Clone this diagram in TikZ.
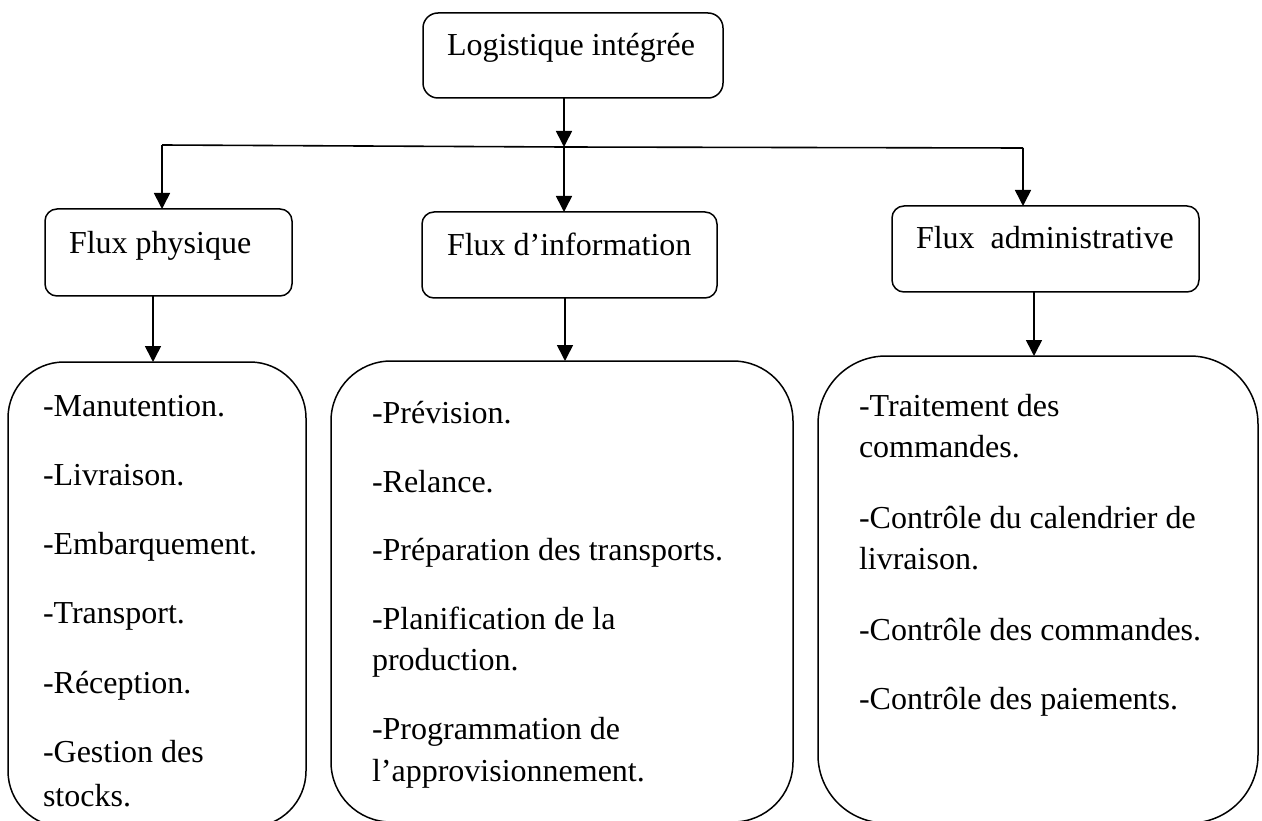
\documentclass[tikz,border=0pt]{standalone}
\usepackage{fontspec}
\setmainfont{Liberation Serif}
\usetikzlibrary{arrows.meta}
\tikzset{
  box/.style={draw, line width=1.5pt, rounded corners=#1, inner sep=0pt, outer sep=0pt},
  txt/.style={anchor=base west, inner sep=0pt, outer sep=0pt, font=\fontsize{32}{38}\selectfont},
  conn/.style={line width=1.6pt, -{Triangle[width=16pt,length=16pt]}},
  plain/.style={line width=1.6pt},
}
\begin{document}
\begin{tikzpicture}[x=1pt,y=-1pt]
\useasboundingbox (0,0) rectangle (1262,821);
\clip (0,0) rectangle (1262,821);
% boxes
\node[box=15pt, minimum width=300pt, minimum height=85pt] (top) at (573,55.5) {};
\node[box=12pt, minimum width=247pt, minimum height=87pt] (fp) at (168.5,252.5) {};
\node[box=12pt, minimum width=295pt, minimum height=86pt] (fi) at (569.5,255) {};
\node[box=12pt, minimum width=307pt, minimum height=86pt] (fa) at (1045.5,249) {};
\node[box=56pt, minimum width=298pt, minimum height=465pt] (bp) at (157,594.5) {};
\node[box=60pt, minimum width=462pt, minimum height=461pt] (bi) at (562,591.5) {};
\node[box=68pt, minimum width=440pt, minimum height=467pt] (ba) at (1038,589.5) {};
% titles
\node[txt] (ttop) at (447,56) {Logistique intégrée};
\node[txt] (tfp) at (69,254) {Flux physique};
\node[txt] (tfi) at (447,256) {Flux d’information};
\node[txt] (tfa) at (916,249) {Flux\ \ administrative};
% connectors
\coordinate (jm) at (564,147);
\coordinate (jl) at (162,145);
\coordinate (jr) at (1023,148);
\draw[conn] (top.south -| jm) -- (jm);
\draw[plain] (jl) -- (jm) -- (jr);
\draw[conn] (jl) -- (jl |- fp.north);
\draw[conn] (jm) -- (jm |- fi.north);
\draw[conn] (jr) -- (jr |- fa.north);
\coordinate (xp) at (153,0);
\coordinate (xi) at (565,0);
\coordinate (xa) at (1034,0);
\draw[conn] (xp |- fp.south) -- (xp |- bp.north);
\draw[conn] (xi |- fi.south) -- (xi |- bi.north);
\draw[conn] (xa |- fa.south) -- (xa |- ba.north);
% left list
\node[txt] (p1) at (43,416) {-Manutention.};
\node[txt] (p2) at (43,485) {-Livraison.};
\node[txt] (p3) at (43,554) {-Embarquement.};
\node[txt] (p4) at (43,623) {-Transport.};
\node[txt] (p5) at (43,693) {-Réception.};
\node[txt] (p6) at (43,762) {-Gestion des};
\node[txt] (p7) at (43,806) {stocks.};
% middle list
\node[txt] (i1) at (372,423) {-Prévision.};
\node[txt] (i2) at (372,492) {-Relance.};
\node[txt] (i3) at (372,560) {-Préparation des transports.};
\node[txt] (i4) at (372,629) {-Planification de la};
\node[txt] (i5) at (372,670) {production.};
\node[txt] (i6) at (372,739) {-Programmation de};
\node[txt] (i7) at (372,781) {l’approvisionnement.};
% right list
\node[txt] (a1) at (859,416) {-Traitement des};
\node[txt] (a2) at (859,457) {commandes.};
\node[txt] (a3) at (859,528) {-Contrôle du calendrier de};
\node[txt] (a4) at (859,569) {livraison.};
\node[txt] (a5) at (859,640) {-Contrôle des commandes.};
\node[txt] (a6) at (859,709) {-Contrôle des paiements.};
\end{tikzpicture}
\end{document}
